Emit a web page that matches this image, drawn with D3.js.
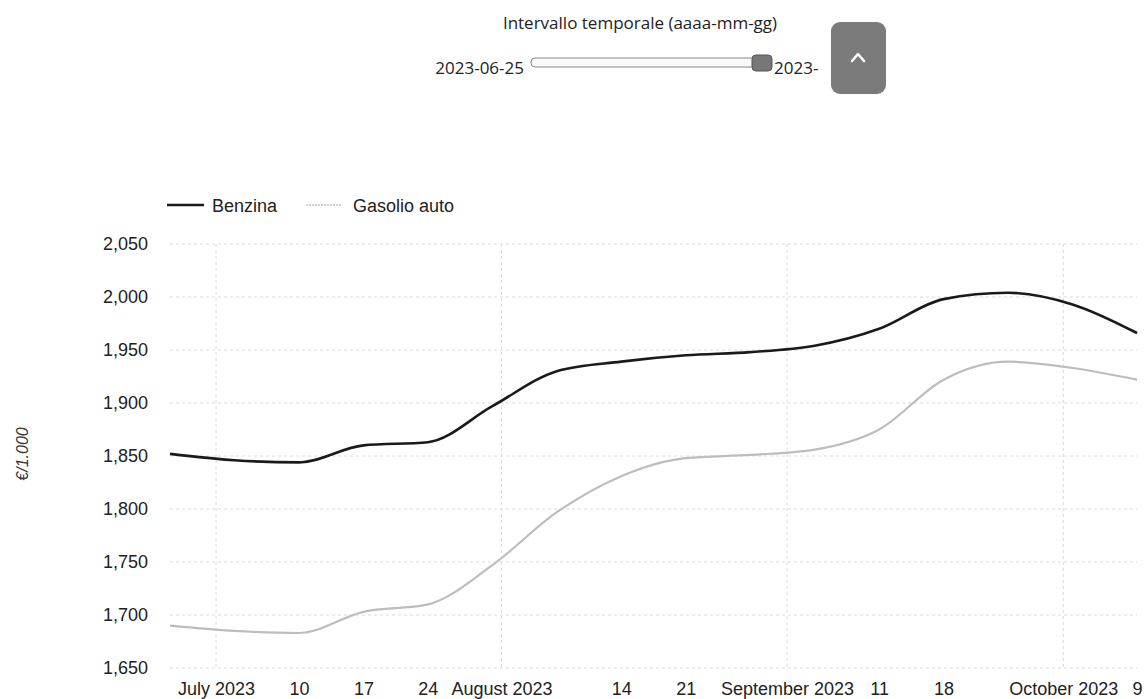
<!DOCTYPE html>
<html>
<head>
<meta charset="utf-8">
<script src="https://cdn.jsdelivr.net/npm/d3@7"></script>
<style>
  body { margin: 0; background: #fff; }
  svg { display: block; }
</style>
</head>
<body>
<script>
// Weekly prices (€/1.000 l)
const dates = ["2023-06-26", "2023-07-03", "2023-07-10", "2023-07-17", "2023-07-24", "2023-07-31",
  "2023-08-07", "2023-08-14", "2023-08-21", "2023-08-28", "2023-09-04", "2023-09-11",
  "2023-09-18", "2023-09-25", "2023-10-02", "2023-10-09"];
const benzina = [1852, 1846, 1844, 1860, 1863, 1897, 1930, 1939, 1945, 1948, 1954, 1970, 1998, 2004, 1993, 1966];
const gasolio = [1690, 1685, 1683, 1703, 1710, 1747, 1797, 1831, 1848, 1851, 1856, 1875, 1922, 1939, 1933, 1922];
const seriesNames = ["Benzina", "Gasolio auto"];
const yTicks = [1650, 1700, 1750, 1800, 1850, 1900, 1950, 2000, 2050];
const xTicks = ["2023-07-01", "2023-07-10", "2023-07-17", "2023-07-24", "2023-08-01", "2023-08-14",
  "2023-08-21", "2023-09-01", "2023-09-11", "2023-09-18", "2023-10-01", "2023-10-09"];
const monthStarts = ["2023-07-01", "2023-08-01", "2023-09-01", "2023-10-01"];
const rangeStart = "2023-06-25";

const parse = d3.timeParse("%Y-%m-%d");
const width = 1146, height = 699;
const margin = {left: 170, right: 9, top: 244, bottom: 31};

const svg = d3.select("body").append("svg")
    .attr("width", width)
    .attr("height", height);

// Top controls: title, slider, button
svg.append("text")
    .attr("x", 640).attr("y", 29)
    .attr("text-anchor", "middle")
    .style("font-family", "Open Sans")
    .style("font-size", "17px")
    .style("fill", "#222")
    .text("Intervallo temporale (aaaa-mm-gg)");

svg.append("text")
    .attr("x", 524).attr("y", 74)
    .attr("text-anchor", "end")
    .style("font-family", "Open Sans")
    .style("font-size", "17px")
    .style("fill", "#222")
    .text(rangeStart);

svg.append("rect")
    .attr("x", 531).attr("y", 58).attr("width", 228).attr("height", 9)
    .attr("rx", 4)
    .attr("fill", "#fafafa").attr("stroke", "#888").attr("stroke-width", 1);

svg.append("rect")
    .attr("x", 752).attr("y", 55).attr("width", 20).attr("height", 16)
    .attr("rx", 4)
    .attr("fill", "#777").attr("stroke", "#555").attr("stroke-width", 1);

svg.append("text")
    .attr("x", 774).attr("y", 74)
    .style("font-family", "Open Sans")
    .style("font-size", "17px")
    .style("fill", "#222")
    .text("2023-");

svg.append("rect")
    .attr("x", 831).attr("y", 22).attr("width", 55).attr("height", 72)
    .attr("rx", 9)
    .attr("fill", "#7b7b7b");

svg.append("path")
    .attr("d", "M852,61 L858,54 L864,61")
    .attr("fill", "none").attr("stroke", "#fff").attr("stroke-width", 2.5)
    .attr("stroke-linecap", "round").attr("stroke-linejoin", "round");

// Scales
const x = d3.scaleTime()
    .domain([parse(dates[0]), parse(dates[dates.length - 1])])
    .range([margin.left, width - margin.right]);

const y = d3.scaleLinear()
    .domain([1650, 2050])
    .range([height - margin.bottom, margin.top]);

// Grid
svg.append("g")
    .selectAll("line")
    .data(yTicks)
    .enter().append("line")
    .attr("x1", margin.left).attr("x2", width - margin.right)
    .attr("y1", d => y(d)).attr("y2", d => y(d))
    .attr("stroke", "#dadada").attr("stroke-width", 1)
    .attr("stroke-dasharray", "3,3");

svg.append("g")
    .selectAll("line")
    .data(monthStarts)
    .enter().append("line")
    .attr("x1", d => x(parse(d))).attr("x2", d => x(parse(d)))
    .attr("y1", margin.top).attr("y2", height - margin.bottom)
    .attr("stroke", "#dadada").attr("stroke-width", 1)
    .attr("stroke-dasharray", "3,3");

// Axes
const fmtMonth = d3.timeFormat("%B %Y");
const fmtDay = d3.timeFormat("%-d");

const xAxis = svg.append("g")
    .attr("transform", "translate(0," + (height - margin.bottom) + ")")
    .call(d3.axisBottom(x)
        .tickValues(xTicks.map(parse))
        .tickFormat(d => d.getDate() === 1 ? fmtMonth(d) : fmtDay(d))
        .tickSize(0)
        .tickPadding(14));
xAxis.select(".domain").remove();
xAxis.selectAll("text")
    .style("font-family", "Liberation Sans, Arial, sans-serif")
    .style("font-size", "18px")
    .style("fill", "#222");

const yAxis = svg.append("g")
    .attr("transform", "translate(" + margin.left + ",0)")
    .call(d3.axisLeft(y)
        .tickValues(yTicks)
        .tickFormat(d3.format(","))
        .tickSize(0)
        .tickPadding(22));
yAxis.select(".domain").remove();
yAxis.selectAll("text")
    .style("font-family", "Liberation Sans, Arial, sans-serif")
    .style("font-size", "18px")
    .style("fill", "#222");

svg.append("text")
    .attr("transform", "rotate(-90)")
    .attr("x", -(margin.top + height - margin.bottom) / 2 + 2)
    .attr("y", 28)
    .attr("text-anchor", "middle")
    .style("font-family", "Liberation Sans, Arial, sans-serif")
    .style("font-style", "italic")
    .style("font-size", "16px")
    .style("fill", "#333")
    .text("€/1.000");

// Lines
const line = d3.line()
    .x((d, i) => x(parse(dates[i])))
    .y(d => y(d))
    .curve(d3.curveMonotoneX);

svg.append("path")
    .datum(gasolio)
    .attr("d", line)
    .attr("fill", "none")
    .attr("stroke", "#bdbdbd")
    .attr("stroke-width", 2.2);

svg.append("path")
    .datum(benzina)
    .attr("d", line)
    .attr("fill", "none")
    .attr("stroke", "#1a1a1a")
    .attr("stroke-width", 2.6);

// Legend
const legendItems = [
    {name: seriesNames[0], color: "#1a1a1a", w: 2.6, x: 167},
    {name: seriesNames[1], color: "#c4c4c4", w: 1.6, x: 306}
];

const legend = svg.selectAll(".legend")
    .data(legendItems)
    .enter().append("g")
    .attr("class", "legend")
    .attr("transform", d => "translate(" + d.x + ",205)");

legend.append("line")
    .attr("x1", 0).attr("x2", d => d.name === "Benzina" ? 37 : 36)
    .attr("y1", 0).attr("y2", 0)
    .attr("stroke", d => d.color)
    .attr("stroke-width", d => d.w)
    .attr("stroke-dasharray", d => d.name === "Benzina" ? null : "2,1");

legend.append("text")
    .attr("x", d => d.name === "Benzina" ? 45 : 47)
    .attr("y", 7)
    .style("font-family", "Liberation Sans, Arial, sans-serif")
    .style("font-size", "18px")
    .style("fill", "#222")
    .text(d => d.name);
</script>
</body>
</html>
